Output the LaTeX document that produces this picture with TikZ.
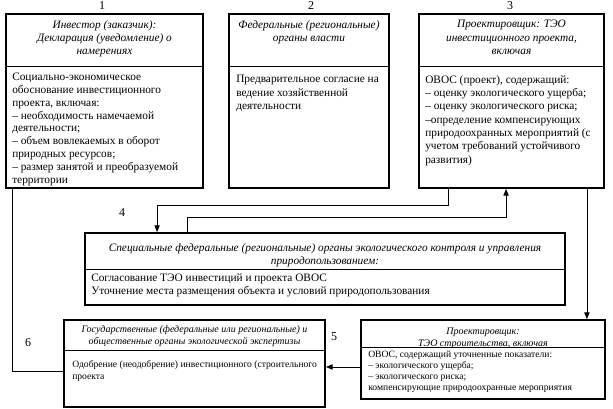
\documentclass[tikz,border=0pt]{standalone}
\usepackage{fontspec}
\setmainfont{Liberation Serif}
\usetikzlibrary{arrows.meta,calc,fit}

\begin{document}
\begin{tikzpicture}[x=0.75pt, y=-0.75pt,
    box/.style={draw, line width=1.4pt, inner sep=0pt},
    sep/.style={line width=0.6pt},
    head/.style={anchor=north, inner sep=0pt, align=center, font=\fontsize{8.5}{10}\selectfont\itshape},
    body/.style={anchor=north west, inner sep=0pt, align=left, font=\fontsize{8.5}{10}\selectfont},
    smallhead/.style={head, font=\fontsize{7.5}{9}\selectfont\itshape},
    smallbody/.style={body, font=\fontsize{7.2}{8.2}\selectfont},
    num/.style={inner sep=0pt, font=\fontsize{9}{10}\selectfont},
    link/.style={line width=0.6pt},
    arr/.style={link, -{Triangle[length=5pt,width=4pt]}}]

    \useasboundingbox (0,0) rectangle (613,409);

    % Numbers
    \node[num] (n1) at (102,6) {1};
    \node[num] (n2) at (311,6) {2};
    \node[num] (n3) at (510,6) {3};
    \node[num] (n4) at (122,213) {4};
    \node[num] (n5) at (334,337) {5};
    \node[num] (n6) at (28,343) {6};

    % Box 1: investor
    \node[box, fit={(6,14) (203,188)}] (inv) {};
    \draw[sep] (inv.west |- 0,66) -- (inv.east |- 0,66);
    \node[head] (invh) at (104.5,20) {Инвестор (заказчик):\\Декларация (уведомление) о\\намерениях};
    \node[body, font=\fontsize{8.5}{9.6}\selectfont] (invb) at (12,73) {Социально-экономическое\\обоснование инвестиционного\\проекта, включая:\\– необходимость намечаемой\\деятельности;\\– объем вовлекаемых в оборот\\природных ресурсов;\\– размер занятой и преобразуемой\\территории};

    % Box 2: authorities
    \node[box, fit={(229,14) (389,188)}] (fed) {};
    \draw[sep] (fed.west |- 0,66) -- (fed.east |- 0,66);
    \node[head] (fedh) at (309,20) {Федеральные (региональные)\\органы власти};
    \node[body] (fedb) at (236,75) {Предварительное согласие на\\ведение хозяйственной\\деятельности};

    % Box 3: designer, feasibility study
    \node[box, fit={(419,14) (604,188)}] (teo) {};
    \draw[sep] (teo.west |- 0,66) -- (teo.east |- 0,66);
    \node[head] (teoh) at (511.5,20) {Проектировщик: ТЭО\\инвестиционного проекта,\\включая};
    \node[body] (teob) at (425,75) {ОВОС (проект), содержащий:\\– оценку экологического ущерба;\\– оценку экологического риска;\\–определение компенсирующих\\природоохранных мероприятий (с\\учетом требований устойчивого\\развития)};

    % Box 4: special bodies
    \node[box, fit={(85,233) (565,305)}] (spec) {};
    \draw[sep] (spec.west |- 0,269) -- (spec.east |- 0,269);
    \node[head] (spech) at (325,243) {Специальные федеральные (региональные) органы экологического контроля и управления\\природопользованием:};
    \node[body] (specb) at (91,273) {Согласование ТЭО инвестиций и проекта ОВОС\\Уточнение места размещения объекта и условий природопользования};

    % Box 6: expertise
    \node[box, fit={(64,320) (325,407)}] (gos) {};
    \draw[sep] (gos.west |- 0,350) -- (gos.east |- 0,350);
    \node[smallhead] (gosh) at (194.5,325) {Государственные (федеральные или региональные) и\\общественные органы экологической экспертизы};
    \node[body, font=\fontsize{7.2}{9}\selectfont] (gosb) at (72,360) {Одобрение (неодобрение) инвестиционного (строительного\\проекта};

    % Box 5: designer, construction study
    \node[box, fit={(361,320) (605,399)}] (pro) {};
    \draw[sep] (pro.west |- 0,347) -- (pro.east |- 0,347);
    \node[smallhead] (proh) at (483,328) {Проектировщик:\\ТЭО строительства, включая};
    \node[smallbody] (prob) at (368,351) {ОВОС, содержащий уточненные показатели:\\– экологического ущерба;\\– экологического риска;\\компенсирующие природоохранные мероприятия};

    % Connectors
    \draw[link] ($(inv.south west)+(7,0)$) |- ($(gos.west)+(0,7.5)$);
    \draw[arr] ($(teo.south west)+(30,0)$) -- ++(0,16) -| ($(spec.north west)+(73,0)$);
    \draw[arr] ($(spec.north west)+(103,0)$) -- ++(0,-15) -| ($(teo.south west)+(88,0)$);
    \coordinate (t) at ($(teo.south east)+(-18,0)$);
    \draw[arr] (t) -- (t |- pro.north);
    \coordinate (p) at ($(pro.west)+(0,7.5)$);
    \draw[arr] (p) -- (p -| gos.east);
\end{tikzpicture}
\end{document}
